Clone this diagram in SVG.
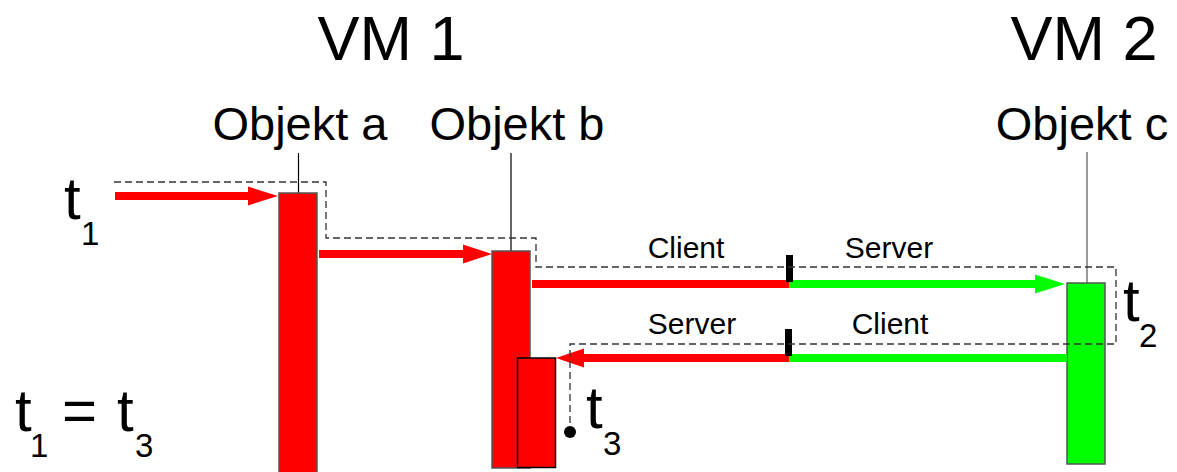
<svg xmlns="http://www.w3.org/2000/svg" width="1177" height="472" viewBox="0 0 1177 472">
<style>
text{font-family:"Liberation Sans",Arial,sans-serif;fill:#000}
.title{font-size:63px;text-anchor:middle}
.obj{font-size:47px;text-anchor:middle}
.lbl{font-size:30px;text-anchor:middle}
.t{font-size:60px}
.sub{font-size:33px}
.life{stroke:#000;stroke-width:1.2}
.barR{fill:#ff0000;stroke:#555;stroke-width:1.5}
.barG{fill:#00ff00;stroke:#555;stroke-width:1.5}
.red{stroke:#ff0000;stroke-width:8;fill:none}
.green{stroke:#00ff00;stroke-width:8;fill:none}
.hr{fill:#ff0000}
.hg{fill:#00ff00}
.dash{fill:none;stroke:#333;stroke-width:1.3;stroke-dasharray:7 4}
</style>
<rect width="1177" height="472" fill="#fff"/>
<g id="titles">
<text class="title" x="391" y="60">VM 1</text>
<text class="title" x="1084" y="60">VM 2</text>
</g>
<g id="objekt-a">
<text class="obj" x="300" y="140">Objekt a</text>
<line class="life" x1="298.5" y1="153" x2="298.5" y2="193"/>
<rect class="barR" x="279" y="193" width="38" height="285"/>
</g>
<g id="objekt-b">
<text class="obj" x="517" y="140">Objekt b</text>
<line class="life" x1="511" y1="153" x2="511" y2="251"/>
<rect class="barR" x="492" y="251" width="38" height="217"/>
<rect class="barR" x="517.5" y="358" width="38" height="109.5" style="stroke:#000"/>
</g>
<g id="objekt-c">
<text class="obj" x="1082" y="140">Objekt c</text>
<line class="life" x1="1087" y1="152" x2="1087" y2="283" style="stroke:#777;stroke-width:1.5"/>
<rect class="barG" x="1067" y="283" width="38" height="181"/>
</g>
<g id="connectors">
<line class="red" x1="115" y1="196" x2="250" y2="196"/>
<polygon class="hr" points="248,186.5 278,196 248,205.5"/>
<line class="red" x1="319" y1="254" x2="465" y2="254"/>
<polygon class="hr" points="463,244.5 492,254 463,263.5"/>
<line class="red" x1="532" y1="284" x2="789" y2="284"/>
<line class="green" x1="789" y1="284" x2="1037" y2="284"/>
<polygon class="hg" points="1035,274.5 1065,284 1035,293.5"/>
<line class="green" x1="1067" y1="358" x2="789" y2="358"/>
<line class="red" x1="789" y1="358" x2="582" y2="358"/>
<polygon class="hr" points="584,348.5 556,358 584,367.5"/>
<rect x="786" y="255" width="7" height="27" fill="#000"/>
<rect x="785" y="329" width="7" height="27" fill="#000"/>
<polyline class="dash" points="114,182 326,182 326,238 536,238 536,267 1116,267 1116,344 570,344 570,432"/>
<circle cx="570" cy="432" r="6" fill="#000"/>
</g>
<g id="labels">
<text class="lbl" x="686" y="258">Client</text>
<text class="lbl" x="889" y="258">Server</text>
<text class="lbl" x="692" y="334">Server</text>
<text class="lbl" x="890" y="334">Client</text>
</g>
<g id="times">
<text class="t" x="64" y="219">t</text>
<text class="sub" x="81" y="245">1</text>
<text class="t" x="1123" y="321">t</text>
<text class="sub" x="1139" y="347">2</text>
<text class="t" x="586" y="428">t</text>
<text class="sub" x="603" y="455">3</text>
<text class="t" x="15" y="431">t</text>
<text class="sub" x="30" y="457">1</text>
<text class="t" x="62" y="431">=</text>
<text class="t" x="117" y="431">t</text>
<text class="sub" x="135" y="457">3</text>
</g>
</svg>
